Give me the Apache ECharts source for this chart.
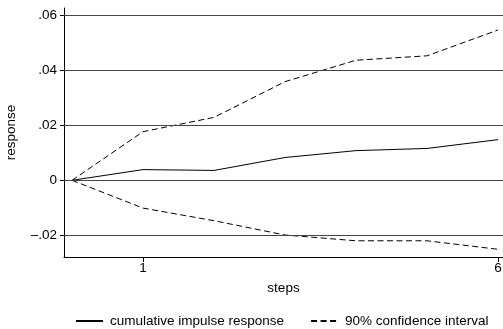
<!DOCTYPE html>
<html>
<head>
<meta charset="utf-8">
<script src="https://cdn.jsdelivr.net/npm/echarts@6/dist/echarts.min.js"></script>
<style>
  html, body { margin: 0; padding: 0; background: #fff; }
  #chart { width: 503px; height: 329px; }
</style>
</head>
<body>
<div id="chart"></div>
<script>
// Impulse-response steps and estimates
const steps = [0, 1, 2, 3, 4, 5, 6];
const cumulativeIrf = [0, 0.0039, 0.0036, 0.0083, 0.0108, 0.0116, 0.0148];
const upperCi = [0, 0.0177, 0.0229, 0.0359, 0.0437, 0.0453, 0.0547];
const lowerCi = [0, -0.0101, -0.0147, -0.0199, -0.0220, -0.0220, -0.0251];

// Axis ticks
const xTicks = [1, 6];
const yTicks = [-0.02, 0, 0.02, 0.04, 0.06];

const font = "'Liberation Sans', Arial, Helvetica, sans-serif";
const fs = 13.5;

function pairs(ys) { return steps.map((s, i) => [s, ys[i]]); }

function fmtY(v) {
  if (Math.abs(v) < 1e-9) return '0';
  const s = Math.abs(v).toFixed(2).replace(/^0/, '');
  return (v < 0 ? '\u2013' : '') + s;
}

const chart = echarts.init(document.getElementById('chart'), null, { renderer: 'canvas' });

const dash = [6, 3.5];

chart.setOption({
  animation: false,
  backgroundColor: '#fff',
  textStyle: { fontFamily: font, color: '#000' },
  grid: { left: 64, right: 0, top: 8, bottom: 72, containLabel: false, outerBoundsMode: 'none' },
  legend: {
    left: 75, top: 314, padding: 0,
    itemWidth: 27, itemHeight: 14, itemGap: 26,
    itemStyle: { opacity: 0 },
    textStyle: { fontFamily: font, fontSize: fs, color: '#000', padding: [0, 0, 0, 2] },
    data: ['cumulative impulse response', '90% confidence interval']
  },
  xAxis: {
    type: 'value', min: -0.113, max: 6.07,
    name: 'steps', nameLocation: 'middle', nameGap: 24,
    nameTextStyle: { fontFamily: font, fontSize: fs, color: '#000' },
    axisLine: { show: true, onZero: false, lineStyle: { color: '#000', width: 1 } },
    axisTick: { show: true, length: 5, customValues: xTicks, lineStyle: { color: '#000' } },
    axisLabel: { customValues: xTicks, margin: 4, fontSize: fs, color: '#000', fontFamily: font },
    splitLine: { show: false }
  },
  yAxis: {
    type: 'value', min: -0.0279, max: 0.0627,
    name: 'response', nameLocation: 'middle', nameGap: 46, nameRotate: 90,
    nameTextStyle: { fontFamily: font, fontSize: fs, color: '#000' },
    axisLine: { show: true, onZero: false, lineStyle: { color: '#000', width: 1 } },
    axisTick: { show: true, length: 4, customValues: yTicks, lineStyle: { color: '#000' } },
    axisLabel: { customValues: yTicks, margin: 7, fontSize: fs, color: '#000', fontFamily: font, formatter: fmtY },
    splitLine: { show: false }
  },
  series: [
    {
      name: 'cumulative impulse response', type: 'line', data: pairs(cumulativeIrf),
      symbol: 'none', showSymbol: false, z: 3,
      lineStyle: { color: '#000', width: 1 }, itemStyle: { color: '#000' },
      markLine: {
        silent: true, symbol: 'none', label: { show: false },
        lineStyle: { color: '#444', width: 1.2, type: 'solid' },
        data: yTicks.map(v => ({ yAxis: v }))
      }
    },
    {
      name: '90% confidence interval', type: 'line', data: pairs(upperCi),
      symbol: 'none', showSymbol: false, z: 3,
      lineStyle: { color: '#000', width: 1, type: dash }, itemStyle: { color: '#000' }
    },
    {
      name: '90% confidence interval', type: 'line', data: pairs(lowerCi),
      symbol: 'none', showSymbol: false, z: 3,
      lineStyle: { color: '#000', width: 1, type: dash }, itemStyle: { color: '#000' }
    }
  ]
});
</script>
</body>
</html>
